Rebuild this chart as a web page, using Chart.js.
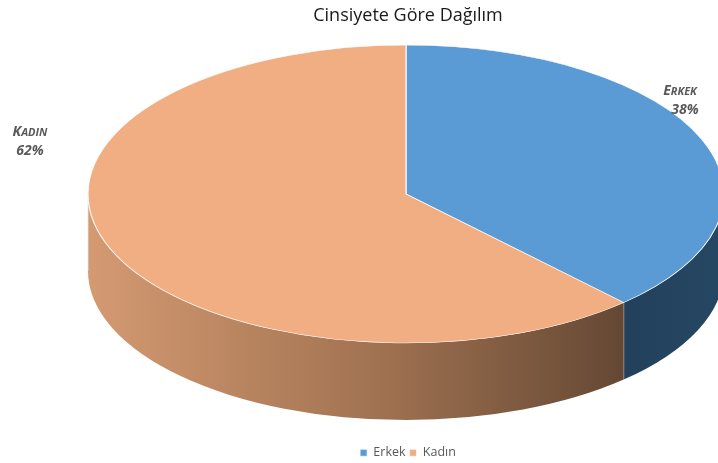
<!DOCTYPE html>
<html>
<head>
<meta charset="utf-8">
<script src="https://cdn.jsdelivr.net/npm/chart.js@4"></script>
<style>
  body { margin: 0; background: #fff; }
  #wrap { width: 718px; height: 463px; }
</style>
</head>
<body>
<div id="wrap"><canvas id="chartGender"></canvas></div>
<script>
// Données
const categories = ["Erkek", "Kadın"];
const values = [38, 62];
const topColors = ["#5B9BD5", "#F0AE82"];
const chartTitle = "Cinsiyete Göre Dağılım";

// Géométrie de l'ellipse (faux 3D)
const CX = 406, CY = 194, RX = 318, RY = 149, DEPTH = 77;
const labelPos = [[680, 95, 685], [30, 136, 30]];

function sideFill(ctx, i) {
  if (i === 0) {
    const g = ctx.createLinearGradient(620, 0, 724, 0);
    g.addColorStop(0, "#22405A");
    g.addColorStop(1, "#264763");
    return g;
  }
  const g = ctx.createLinearGradient(88, 0, 655, 0);
  g.addColorStop(0, "#D49A72");
  g.addColorStop(0.5, "#A27352");
  g.addColorStop(1, "#5D4330");
  return g;
}

const pie3d = {
  id: "pie3d",
  beforeDatasetsDraw(chart) {
    const ctx = chart.ctx;
    const meta = chart.getDatasetMeta(0);
    // murs latéraux (partie avant seulement)
    meta.data.forEach((arc, i) => {
      let s = arc.startAngle, e = arc.endAngle;
      const segs = [];
      for (let k = -1; k <= 1; k++) {
        const a = Math.max(s, k * 2 * Math.PI), b = Math.min(e, k * 2 * Math.PI + Math.PI);
        if (b > a) segs.push([a, b]);
      }
      segs.forEach(([a, b]) => {
        ctx.save();
        ctx.beginPath();
        ctx.ellipse(CX, CY, RX, RY, 0, a, b, false);
        ctx.ellipse(CX, CY + DEPTH, RX, RY, 0, b, a, true);
        ctx.closePath();
        ctx.fillStyle = sideFill(ctx, i);
        ctx.fill();
        ctx.strokeStyle = "rgba(230,230,230,0.8)";
        ctx.lineWidth = 1;
        ctx.beginPath();
        ctx.moveTo(CX + RX * Math.cos(b), CY + RY * Math.sin(b));
        ctx.lineTo(CX + RX * Math.cos(b), CY + DEPTH + RY * Math.sin(b));
        ctx.stroke();
        ctx.restore();
      });
    });
    // dessus aplati
    const arc = meta.data[0];
    const R = arc.outerRadius;
    ctx.save();
    ctx.translate(CX, CY);
    ctx.scale(RX / R, RY / R);
    ctx.translate(-arc.x, -arc.y);
  },
  afterDatasetsDraw(chart) {
    chart.ctx.restore();
  },
  afterDraw(chart) {
    const ctx = chart.ctx;
    const total = values.reduce((a, b) => a + b, 0);
    ctx.save();
    ctx.fillStyle = "#595959";
    ctx.textBaseline = "alphabetic";
    categories.forEach((c, i) => {
      const [x, y, px] = labelPos[i];
      const up = c.toLocaleUpperCase("tr-TR");
      const big = "italic bold 14px 'Open Sans'";
      const small = "italic bold 11px 'Open Sans'";
      ctx.font = big;
      const w1 = ctx.measureText(up[0]).width;
      ctx.font = small;
      const w2 = ctx.measureText(up.slice(1)).width;
      let x0 = x - (w1 + w2) / 2;
      ctx.font = big;
      ctx.textAlign = "left";
      ctx.fillText(up[0], x0, y);
      ctx.font = small;
      ctx.fillText(up.slice(1), x0 + w1, y);
      ctx.font = big;
      ctx.textAlign = "center";
      ctx.fillText(Math.round(values[i] / total * 100) + "%", px, y + 19);
    });
    ctx.restore();
  }
};

new Chart(document.getElementById("chartGender"), {
  type: "pie",
  data: {
    labels: categories,
    datasets: [{
      data: values,
      backgroundColor: topColors,
      borderColor: "rgba(255,255,255,0.85)",
      borderWidth: 0.8
    }]
  },
  options: {
    responsive: true,
    maintainAspectRatio: false,
    animation: false,
    events: [],
    layout: { padding: { left: 98, right: 0, top: 0, bottom: -6 } },
    plugins: {
      title: {
        display: true,
        text: chartTitle,
        color: "#1a1a1a",
        font: { family: "'Open Sans'", size: 18, weight: "normal" },
        padding: { top: 5, bottom: 10 }
      },
      legend: {
        position: "bottom",
        labels: {
          boxWidth: 7,
          boxHeight: 7,
          color: "#595959",
          font: { family: "'Open Sans'", size: 12.5 },
          padding: 4
        }
      },
      tooltip: { enabled: false }
    }
  },
  plugins: [pie3d]
});
</script>
</body>
</html>
